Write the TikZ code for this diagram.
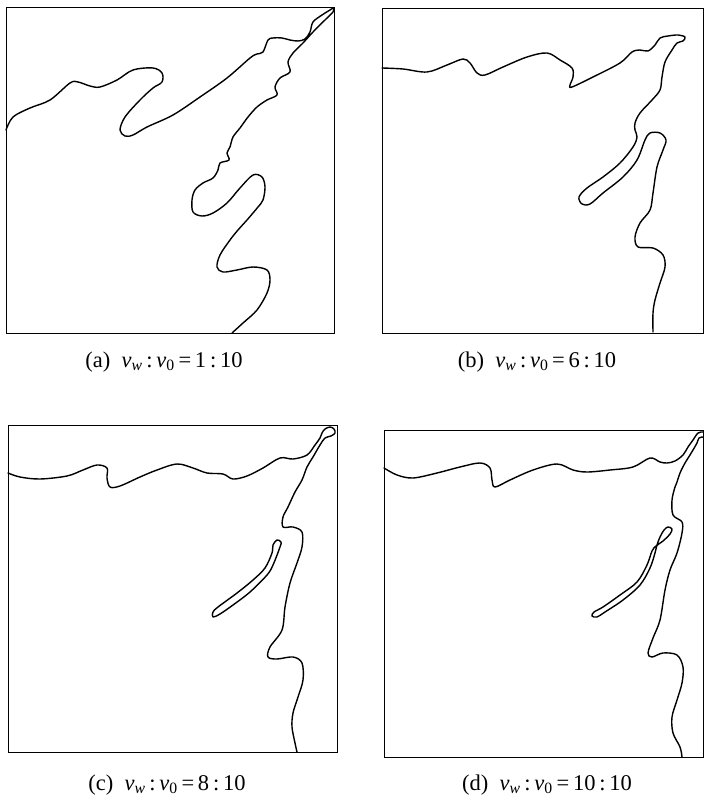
\documentclass[tikz,border=0pt]{standalone}
\usepackage{fontspec}
\setmainfont{Liberation Serif}
\tikzset{
  frame/.style={draw=black, line width=0.9pt},
  front/.style={draw=black, line width=1.4pt, line join=round, line cap=round},
  captext/.style={font=\fontsize{22.5}{24}\selectfont, inner sep=0pt, anchor=center}
}
\newcommand{\ratiotext}[2]{(#1)\hspace{0.5em}\textit{ν}\textsubscript{\textit{w}}\,:\,\textit{ν}\textsubscript{0}\,=\,#2}
\begin{document}
\begin{tikzpicture}[x=1pt,y=-1pt]
\useasboundingbox (0,0) rectangle (704,802);
% frames
\draw[frame] (6,7) rectangle (334.5,333);
\draw[frame] (382,8) rectangle (703.4,333);
\draw[frame] (8,425) rectangle (337,752);
\draw[frame] (384,430) rectangle (703.4,757);
% panel a
\draw[front] plot[smooth,tension=0.55] coordinates {
(6,130) (13,117) (30,108) (50,100) (70,83) (78,82) (90,86) (100,87) (117,80) (133,70) (153,68) (162,73) (162,82) (153,88) (140,100) (125,117) (120,130) (125,136) (133,135) (147,127) (173,115) (200,97) (227,78) (250,58) (257,54) (263,52) (268,40) (273,38) (282,38) (290,40) (298,41) (305,39) (310,32) (313,22) (322,15) (330,10) (333.5,8) (333,12) (326,19) (313,32) (303,43) (293,53) (288,62) (290,72) (280,78) (275,87) (277,95) (267,100) (257,107) (248,117) (240,128) (233,137) (230,147) (227,153) (229,160) (220,163) (218,170) (213,178) (203,183) (195,190) (192,200) (193,212) (202,216) (213,213) (227,203) (240,188) (253,175) (262,177) (265,187) (263,200) (258,207) (253,213) (247,220) (238,230) (230,240) (220,255) (217,267) (223,272) (237,270) (253,267) (267,270) (270,280) (267,293) (257,310) (243,323) (232,333)};
% panel b
\draw[front] plot[smooth,tension=0.55] coordinates {
(382,68) (403,69) (427,72) (447,65) (463,59) (470,63) (477,73) (485,75) (503,67) (527,57) (547,53) (560,60) (572,68) (573,77) (570,85) (572,87) (593,77) (620,63) (632,52) (640,50) (648,51) (655,45) (660,38) (668,36) (678,35) (685,37) (683,41) (677,43) (672,50) (665,62) (662,77) (660,90) (652,100) (640,113) (635,123) (635,130) (637,137) (633,147) (620,163) (603,177) (587,188) (579,197) (582,204) (590,204) (603,193) (623,177) (637,160) (645,140) (650,133) (660,133) (666,140) (663,150) (657,167) (653,193) (650,210) (640,223) (635,237) (638,247) (653,248) (663,255) (665,267) (660,283) (655,300) (653,313) (653,332)};
% panel c
\draw[front] plot[smooth,tension=0.55] coordinates {
(8,473) (20,477) (40,479) (67,476) (83,470) (97,465) (107,468) (107,478) (110,487) (120,486) (140,477) (157,470) (177,464) (193,468) (207,473) (223,474) (233,479) (247,476) (263,468) (280,458) (293,459) (307,455) (315,445) (320,438) (322,433) (325,429) (330,427) (334,429) (335,433) (331,436) (325,438) (320,445) (313,457) (307,467) (302,480) (295,492) (288,507) (283,517) (283,527) (293,527) (302,532) (302,547) (297,563) (290,583) (285,607) (282,630) (270,647) (268,657) (277,659) (293,657) (302,663) (303,680) (298,697) (293,713) (292,727) (295,743) (297,752)};
\draw[front] plot[smooth cycle,tension=0.55] coordinates {
(277,540) (281,542) (280,547) (273,565) (267,575) (250,592) (233,605) (220,614) (213,617) (213,612) (218,607) (237,593) (253,580) (265,568) (272,553) (273,545)};
% panel d
\draw[front] plot[smooth,tension=0.55] coordinates {
(384,468) (397,475) (413,478) (437,473) (460,467) (480,463) (490,468) (492,480) (495,487) (510,480) (533,470) (557,464) (573,470) (587,472) (610,470) (633,467) (650,458) (660,462) (667,463) (675,461) (683,455) (688,447) (693,440) (698,433) (703,432)};
\draw[front] plot[smooth,tension=0.55] coordinates {
(703,437) (699,438) (697,443) (693,450) (690,455) (685,463) (680,473) (677,482) (675,487) (672,500) (673,515) (682,522) (682,533) (677,553) (670,570) (665,590) (660,620) (653,638) (648,653) (652,657) (663,653) (677,655) (683,667) (682,683) (677,700) (672,717) (673,733) (680,747) (682,757)};
\draw[front] plot[smooth cycle,tension=0.55] coordinates {
(592,616) (597,617) (605,612) (623,600) (640,585) (650,568) (655,553) (657,545) (660,537) (664,530) (668,527) (672,529) (670,534) (663,541) (656,546) (652,551) (647,565) (637,582) (620,595) (603,607) (594,612)};
% captions
\node[captext] (capa) at (164,362) {\ratiotext{a}{1\,:\,10}};
\node[captext] (capb) at (537,362) {\ratiotext{b}{6\,:\,10}};
\node[captext] (capc) at (167,785) {\ratiotext{c}{8\,:\,10}};
\node[captext] (capd) at (547,785) {\ratiotext{d}{10\,:\,10}};
\end{tikzpicture}
\end{document}
